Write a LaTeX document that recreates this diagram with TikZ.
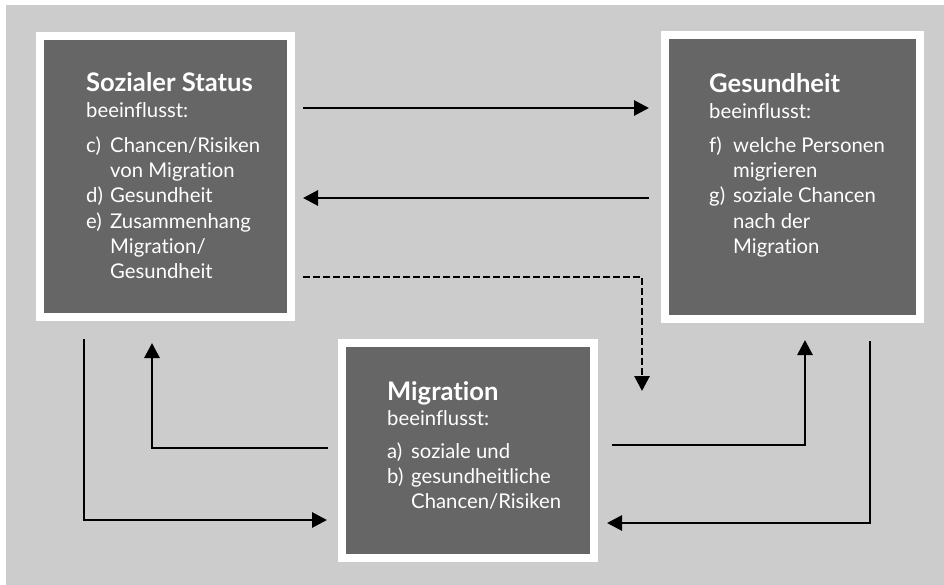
\documentclass[tikz,border=0pt]{standalone}
\usepackage{fontspec}
\setmainfont{Lato}[Ligatures=NoCommon]
\usetikzlibrary{arrows.meta,calc}
\definecolor{bggray}{HTML}{CCCCCC}
\definecolor{boxgray}{HTML}{666666}
% heading and lead-in rows of a factor box
\newcommand{\factortitle}[1]{\multicolumn{2}{@{}l@{}}{\fontsize{25.6}{25.3}\selectfont\bfseries #1}}
\newcommand{\factorlead}{\multicolumn{2}{@{}l@{}}{beeinflusst:}}
\newenvironment{factorlist}{\fontsize{20.3}{25.3}\selectfont\renewcommand{\arraystretch}{1}\begin{tabular}[t]{@{}p{24pt}@{}l@{}}}{\end{tabular}}

\begin{document}
\begin{tikzpicture}[x=1pt,y=-1pt,
  factor/.style={fill=boxgray, draw=white, line width=8pt, inner sep=0pt},
  boxtext/.style={text=white, inner sep=0pt, anchor=base west},
  link/.style={line width=2.8pt, -{Triangle[length=15pt,width=15pt]}},
  dashlink/.style={link, dash pattern=on 6.5pt off 3.5pt}]

\useasboundingbox (0,0) rectangle (944,585);
\fill[bggray] (6,5) rectangle (944,585);

% the three factors
\node[factor, minimum width=251.5pt, minimum height=281pt] (ss) at (165.25,176.5) {};
\node[factor, minimum width=254.5pt, minimum height=284pt] (gh) at (792.25,177) {};
\node[factor, minimum width=252.5pt, minimum height=215pt] (mg) at (467.75,450) {};

\node[boxtext] (ssT) at ($(ss.north west)+(50.5,60)$) {\begin{factorlist}
\factortitle{Sozialer Status}\\
\factorlead\\[9.7pt]
c) & Chancen/Risiken\\
   & von Migration\\
d) & Gesundheit\\
e) & Zusammenhang\\
   & Migration/\\
   & Gesundheit
\end{factorlist}};

\node[boxtext] (ghT) at ($(gh.north west)+(48,62)$) {\begin{factorlist}
\factortitle{Gesundheit}\\
\factorlead\\[8.7pt]
f) & welche Personen\\
   & migrieren\\
g) & soziale Chancen\\
   & nach der\\
   & Migration
\end{factorlist}};

\node[boxtext] (mgT) at ($(mg.north west)+(49.5,61.5)$) {\begin{factorlist}
\factortitle{Migration}\\
\factorlead\\[7.7pt]
a) & soziale und\\
b) & gesundheitliche\\
   & Chancen/Risiken
\end{factorlist}};

% influences between the factors
\draw[link] ($(ss.east)+(8,-68.5)$) -- ($(gh.west)+(-12,-69)$);
\draw[link] ($(gh.west)+(-12,21)$) -- ($(ss.east)+(8,21.5)$);

\coordinate (dashEnd) at ($(gh.west |- mg.north)+(-19,52.5)$);
\draw[dashlink] ($(ss.east)+(8,100.5)$) -| (dashEnd);

\draw[link] ($(ss.south)+(-81.25,18)$) |- ($(mg.west)+(-10.5,70)$);
\draw[link] ($(mg.west)+(-9.5,-2)$) -| ($(ss.south)+(-13.25,22)$);
\draw[link] ($(mg.east)+(14,-5)$) -| ($(gh.south)+(12.75,17)$);
\draw[link] ($(gh.south)+(77.75,18)$) |- ($(mg.east)+(9,73)$);
\end{tikzpicture}
\end{document}
